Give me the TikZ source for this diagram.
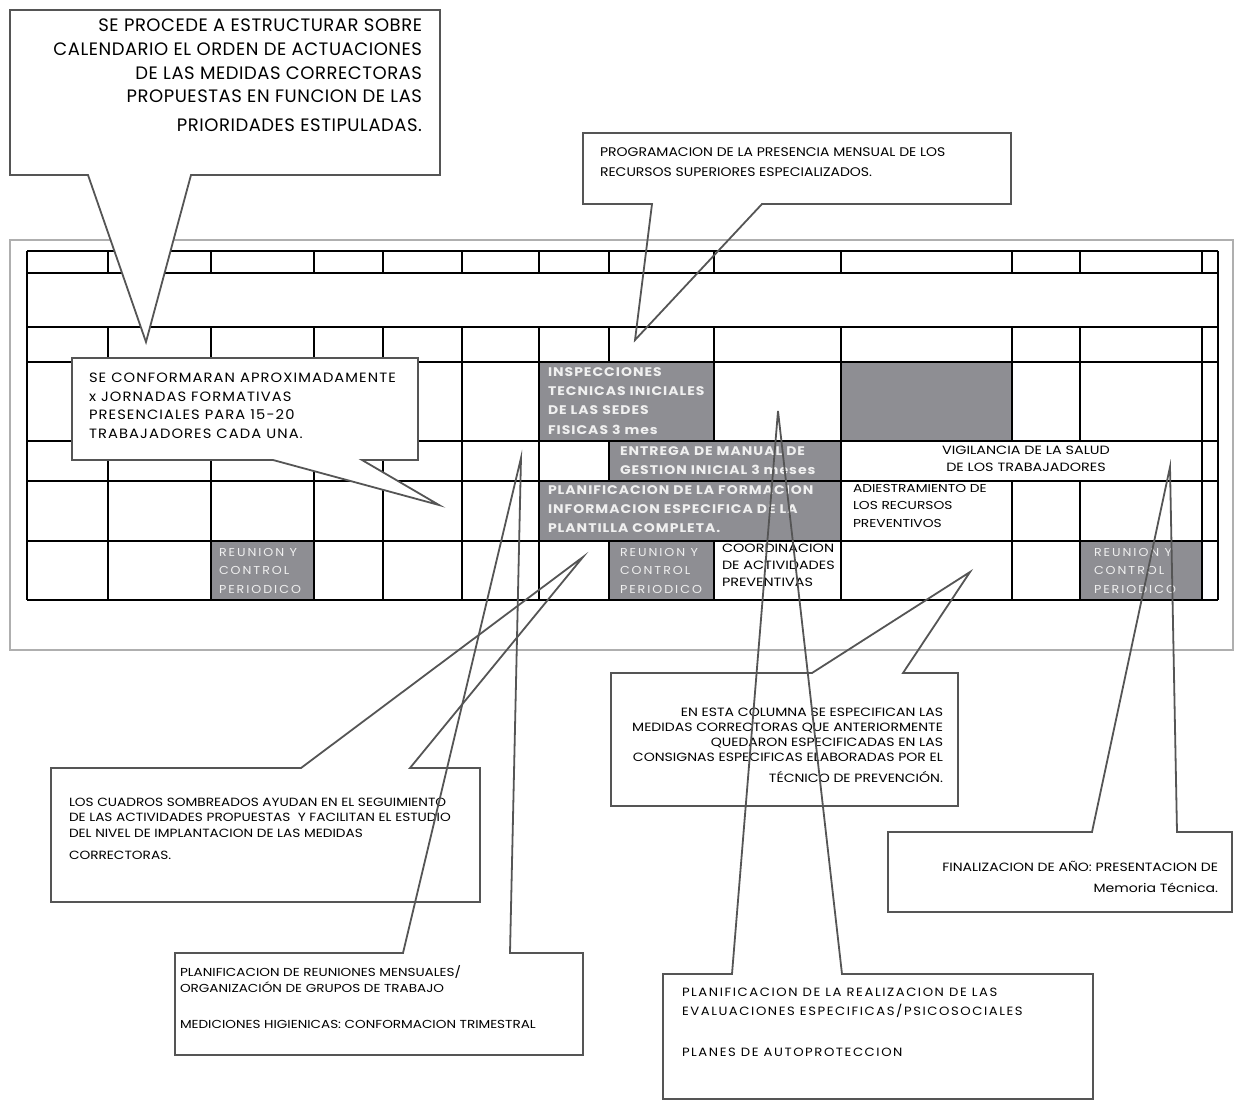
\documentclass[tikz,border=0pt]{standalone}
\usepackage{fontspec}
\setmainfont{Poppins}
\newfontfamily\cgone{Poppins}[LetterSpace=3]
\newfontfamily\cgtwo{Poppins}[FakeStretch=1.12]
\newfontfamily\cgthree{Poppins}[LetterSpace=8,FakeStretch=1.09]
\newfontfamily\cgs{Poppins}[FakeStretch=1.17]
\newfontfamily\cgfour{Poppins}[FakeStretch=1.15]
\newfontfamily\cgeight{Poppins}[LetterSpace=13,FakeStretch=1.1]
\newfontfamily\cgcell{Poppins}[LetterSpace=8,FakeStretch=1.12]
\newfontfamily\cgreu{Poppins}[LetterSpace=17,FakeStretch=1.1]
\newfontfamily\cgn{Poppins}[FakeStretch=1.2]
\definecolor{cellgray}{RGB}{142,142,147}
\definecolor{callline}{RGB}{85,85,85}
\definecolor{framegray}{RGB}{175,175,175}
\definecolor{celltext}{RGB}{240,240,240}
\tikzset{
  callout/.style={draw=callline, line width=1.8pt, line join=miter},
  gridline/.style={line width=1.4pt, black},
  shadecell/.style={fill=cellgray, draw=none},
  txt/.style={inner sep=0pt, outer sep=0pt},
}
\begin{document}
\begin{tikzpicture}[x=1pt,y=-1pt]
\useasboundingbox (0,0) rectangle (1235,1102);
\fill[white] (0,0) rectangle (1235,1102);

% outer frame
\draw[framegray, line width=1.5pt] (10,240) rectangle (1233,650);

% shaded cells
\fill[shadecell] (539,362) rectangle (714,441);
\fill[shadecell] (841,362) rectangle (1012,441);
\fill[shadecell] (609,441) rectangle (841,481);
\fill[shadecell] (539,481) rectangle (841,541);
\fill[shadecell] (211,541) rectangle (314,600);
\fill[shadecell] (609,541) rectangle (714,600);
\fill[shadecell] (1080,541) rectangle (1202,600);

% table grid
\foreach \y in {251,273,327,362,441,481,541,600}
  \draw[gridline] (27,\y) -- (1218,\y);
\draw[gridline] (27,251) -- (27,600);
\draw[gridline] (1218,251) -- (1218,600);
\foreach \x in {108,211,314,383,462,539,609,714,841,1012,1080,1202} {
  \draw[gridline] (\x,251) -- (\x,273);
  \draw[gridline] (\x,327) -- (\x,362);
  \draw[gridline] (\x,541) -- (\x,600);
}
\foreach \x in {108,211,314,383,462,539,714,841,1012,1080,1202}
  \draw[gridline] (\x,362) -- (\x,441);
\foreach \x in {108,211,314,383,462,539,609,841,1202}
  \draw[gridline] (\x,441) -- (\x,481);
\foreach \x in {108,211,314,383,462,539,841,1012,1080,1202}
  \draw[gridline] (\x,481) -- (\x,541);

% cell texts
\node[txt, anchor=north west, align=left, text=celltext,
  font=\cgcell\bfseries\fontsize{12.5}{19.2}\selectfont] (insp) at (548,367.5)
  {INSPECCIONES\\TECNICAS INICIALES\\DE LAS SEDES\\FISICAS 3 mes};
\node[txt, anchor=north west, align=left, text=celltext,
  font=\cgcell\bfseries\fontsize{12.5}{19}\selectfont] (entrega) at (620,446.5)
  {ENTREGA DE MANUAL DE\\GESTION INICIAL 3 meses};
\node[txt, anchor=north west, align=left, text=celltext,
  font=\cgcell\bfseries\fontsize{12.5}{19}\selectfont] (planform) at (548,485.5)
  {PLANIFICACION DE LA FORMACION\\INFORMACION ESPECIFICA DE LA\\PLANTILLA COMPLETA.};
\foreach \n/\x in {reuA/219,reuB/620,reuC/1094}
  \node[txt, anchor=north west, align=left, text=celltext,
    font=\cgreu\fontsize{11.5}{18.5}\selectfont] (\n) at (\x,548)
    {REUNION Y\\CONTROL\\PERIODICO};
\node[txt, anchor=north, align=center,
  font=\cgn\fontsize{12}{17}\selectfont] (vigil) at (1026,446)
  {VIGILANCIA DE LA SALUD\\DE LOS TRABAJADORES};
\node[txt, anchor=north west, align=left,
  font=\cgn\fontsize{11.5}{17.5}\selectfont] (adiest) at (853,484)
  {ADIESTRAMIENTO DE\\LOS RECURSOS\\PREVENTIVOS};
\node[txt, anchor=north west, align=left,
  font=\cgn\fontsize{12}{17}\selectfont] (coord) at (722,544)
  {COORDINACION\\DE ACTIVIDADES\\PREVENTIVAS};

% callout tips
\coordinate (tipA) at (146,342);
\coordinate (tipB) at (635,340);
\coordinate (tipC) at (439,505);
\coordinate (tipD) at (583,557);
\coordinate (tipE) at (970,572);
\coordinate (tipF) at (1170,467);
\coordinate (tipG) at (521,458);
\coordinate (tipH) at (778,411);

% callout 1
\draw[callout, fill=white] (10,10) -- (440,10) -- (440,175) -- (191,175) -- (tipA) -- (88,175) -- (10,175) -- cycle;
\node[txt, anchor=north east, align=right,
  font=\cgone\fontsize{18}{23.7}\selectfont] (t1) at (422,19)
  {SE PROCEDE A ESTRUCTURAR SOBRE\\CALENDARIO EL ORDEN DE ACTUACIONES\\DE LAS MEDIDAS CORRECTORAS\\PROPUESTAS EN FUNCION DE LAS\\[5pt]PRIORIDADES ESTIPULADAS.};

% callout 2
\draw[callout] (583,133) -- (1011,133) -- (1011,204) -- (762,204) -- (tipB) -- (652,204) -- (583,204) -- cycle;
\node[txt, anchor=north west, align=left,
  font=\cgtwo\fontsize{12.5}{20}\selectfont] (t2) at (600,148)
  {PROGRAMACION DE LA PRESENCIA MENSUAL DE LOS\\RECURSOS SUPERIORES ESPECIALIZADOS.};

% callout 3
\draw[callout, fill=white] (72,358) -- (418,358) -- (418,460) -- (362,460) -- (tipC) -- (273,460) -- (72,460) -- cycle;
\node[txt, anchor=north west, align=left,
  font=\cgthree\fontsize{13.5}{18.7}\selectfont] (t3) at (89,373)
  {SE CONFORMARAN APROXIMADAMENTE\\x JORNADAS FORMATIVAS\\PRESENCIALES PARA 15-20\\TRABAJADORES CADA UNA.};

% callout 4
\draw[callout] (51,768) -- (301,768) -- (tipD) -- (410,768) -- (480,768) -- (480,902) -- (51,902) -- cycle;
\node[txt, anchor=north west, align=left,
  font=\cgfour\fontsize{11.9}{15.5}\selectfont] (t4) at (69,798)
  {LOS CUADROS SOMBREADOS AYUDAN EN EL SEGUIMIENTO\\DE LAS ACTIVIDADES PROPUESTAS\ \ Y FACILITAN EL ESTUDIO\\DEL NIVEL DE IMPLANTACION DE LAS MEDIDAS\\[7pt]CORRECTORAS.};

% callout 5
\draw[callout] (611,673) -- (812,673) -- (tipE) -- (903,673) -- (958,673) -- (958,806) -- (611,806) -- cycle;
\node[txt, anchor=north east, align=right,
  font=\cgs\fontsize{12}{15}\selectfont] (t5) at (943,708)
  {EN ESTA COLUMNA SE ESPECIFICAN LAS\\MEDIDAS CORRECTORAS QUE ANTERIORMENTE\\QUEDARON ESPECIFICADAS EN LAS\\CONSIGNAS ESPECIFICAS ELABORADAS POR EL\\[6pt]TÉCNICO DE PREVENCIÓN.};

% callout 6
\draw[callout] (888,832) -- (1092,832) -- (tipF) -- (1177,832) -- (1232,832) -- (1232,912) -- (888,912) -- cycle;
\node[txt, anchor=north east, align=right,
  font=\cgs\fontsize{12}{21}\selectfont] (t6) at (1218,861)
  {FINALIZACION DE AÑO: PRESENTACION DE\\Memoria Técnica.};

% callout 7
\draw[callout] (175,953) -- (403,953) -- (tipG) -- (510,953) -- (583,953) -- (583,1055) -- (175,1055) -- cycle;
\node[txt, anchor=north west, align=left,
  font=\cgs\fontsize{11.6}{16}\selectfont] (t7) at (180,966)
  {PLANIFICACION DE REUNIONES MENSUALES/\\ORGANIZACIÓN DE GRUPOS DE TRABAJO\\[20pt]MEDICIONES HIGIENICAS: CONFORMACION TRIMESTRAL};

% callout 8
\draw[callout] (663,974) -- (732,974) -- (tipH) -- (842,974) -- (1093,974) -- (1093,1099) -- (663,1099) -- cycle;
\node[txt, anchor=north west, align=left,
  font=\cgeight\fontsize{12}{19}\selectfont] (t8) at (682,988)
  {PLANIFICACION DE LA REALIZACION DE LAS\\EVALUACIONES ESPECIFICAS/PSICOSOCIALES\\[22pt]PLANES DE AUTOPROTECCION};
\end{tikzpicture}
\end{document}
